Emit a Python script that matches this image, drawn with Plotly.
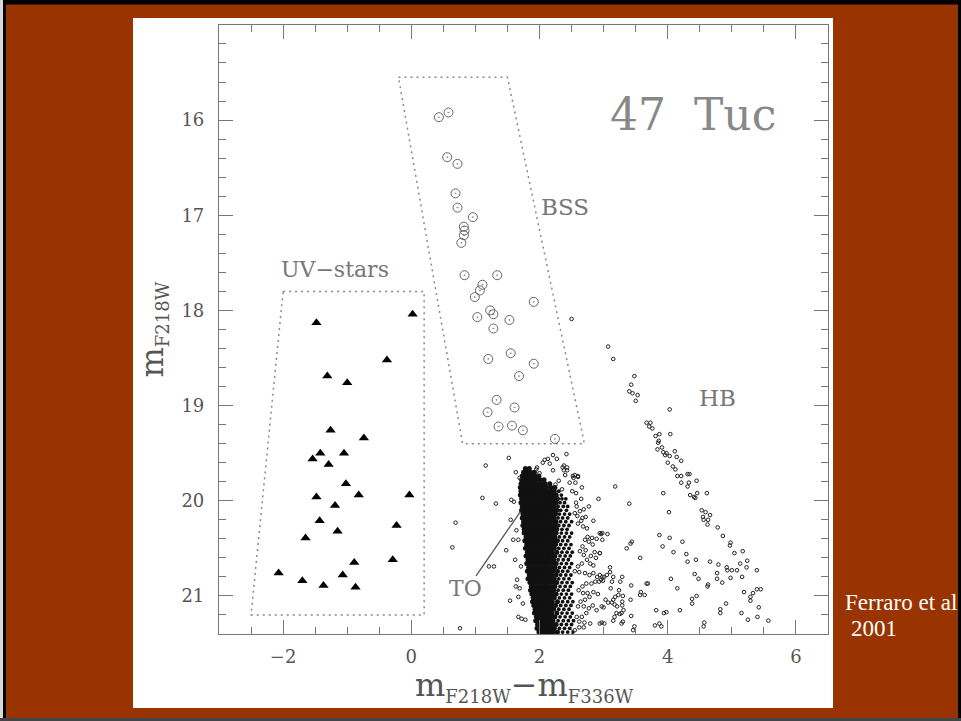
import plotly.graph_objects as go

# ---------------- data ----------------
# UV-stars (filled triangles)
uv_pts = [(-1.48, 18.13), (0.02, 18.04), (-0.38, 18.52), (-1.31, 18.69), (-1.00, 18.76),
          (-1.26, 19.26), (-0.74, 19.34), (-1.42, 19.50), (-1.05, 19.50), (-1.54, 19.56),
          (-1.29, 19.62), (-1.02, 19.82), (-1.48, 19.96), (-0.82, 19.94), (-0.03, 19.94),
          (-1.19, 20.05), (-1.43, 20.21), (-0.23, 20.26), (-1.15, 20.32), (-1.65, 20.39),
          (-0.29, 20.62), (-0.89, 20.65), (-2.07, 20.76), (-1.07, 20.78), (-1.70, 20.84),
          (-1.37, 20.89), (-0.87, 20.91)]

# Blue stragglers (circled dots)
bss_pts = [(0.43, 15.97), (0.58, 15.92), (0.56, 16.39), (0.72, 16.46), (0.69, 16.77),
           (0.72, 16.92), (0.96, 17.02), (0.82, 17.12), (0.83, 17.16), (0.82, 17.21),
           (0.78, 17.29), (0.83, 17.63), (1.34, 17.63), (1.11, 17.73), (1.07, 17.79),
           (0.99, 17.86), (1.91, 17.91), (1.23, 18.00), (1.28, 18.04), (1.03, 18.07),
           (1.53, 18.10), (1.28, 18.19), (1.55, 18.45), (1.20, 18.51), (1.91, 18.56),
           (1.68, 18.69), (1.33, 18.94), (1.61, 19.02), (1.19, 19.07), (1.36, 19.22),
           (1.57, 19.21), (1.74, 19.26), (2.24, 19.35)]

# Horizontal branch and red sparse field stars
hb_pts = [(3.07, 18.38), (3.15, 18.51), (3.48, 18.69), (3.43, 18.78), (3.40, 18.85), (3.45, 18.87),
          (3.53, 18.89), (3.50, 18.95), (4.03, 19.04), (3.67, 19.18), (3.73, 19.18), (3.71, 19.22),
          (3.76, 19.24), (3.87, 19.30), (4.04, 19.30), (3.81, 19.32), (3.86, 19.37), (3.85, 19.39),
          (3.91, 19.44), (3.84, 19.46), (3.93, 19.49), (3.98, 19.50), (4.03, 19.53), (4.11, 19.48),
          (3.96, 19.52), (4.00, 19.60), (4.14, 19.54), (4.08, 19.64), (4.12, 19.67), (4.21, 19.58),
          (4.15, 19.74), (4.21, 19.74), (4.31, 19.72), (4.34, 19.72), (4.21, 19.81), (4.33, 19.81),
          (4.45, 19.79), (4.31, 19.85), (3.93, 19.92), (4.35, 19.94), (4.46, 19.92), (4.41, 19.96),
          (4.61, 19.92), (4.43, 19.97), (4.53, 20.10), (4.59, 20.12), (4.66, 20.15), (4.55, 20.17),
          (4.56, 20.20), (4.63, 20.20), (4.62, 20.25), (4.78, 20.28), (4.86, 20.37), (4.02, 20.12),
          (3.40, 20.03), (3.18, 19.85), (4.98, 20.44), (4.97, 20.47), (5.04, 20.55), (5.17, 20.53),
          (5.24, 20.63), (5.13, 20.66), (5.23, 20.70), (5.39, 20.73), (5.08, 20.73), (5.00, 20.73),
          (4.92, 20.70), (4.93, 20.73), (4.98, 20.81), (5.16, 20.80), (4.79, 20.67), (4.77, 20.76),
          (4.77, 20.82), (4.85, 20.86), (4.66, 20.64), (4.44, 20.62), (4.31, 20.64), (4.29, 20.56),
          (4.42, 20.77), (4.48, 20.82), (4.63, 20.88), (4.62, 20.90), (4.23, 20.43), (4.09, 20.54),
          (4.03, 20.39), (3.92, 20.48), (3.87, 20.36), (3.42, 20.45), (3.44, 20.43), (3.36, 20.50),
          (3.57, 20.60), (4.05, 20.82), (4.15, 20.92), (4.45, 21.00), (4.38, 21.03), (4.38, 21.08),
          (4.91, 21.08), (5.19, 20.96), (5.33, 20.97), (5.39, 20.93), (5.45, 20.93), (5.29, 21.01),
          (5.29, 21.05), (5.42, 21.12), (5.15, 21.18), (5.40, 21.22), (5.25, 21.25), (5.57, 21.26),
          (4.82, 21.14), (4.82, 21.18), (4.19, 21.15), (3.98, 21.17), (3.94, 21.18), (3.82, 21.15),
          (4.57, 21.28), (4.56, 21.32), (3.87, 21.29), (3.80, 21.31), (3.90, 21.32), (3.48, 21.32),
          (3.46, 21.36), (3.67, 20.87), (3.69, 20.87), (3.64, 20.99), (3.58, 20.96), (3.43, 20.89),
          (3.42, 21.04), (3.43, 21.21), (3.57, 20.99)]

# sparse stars around the main-sequence cloud
halo_pts = [(2.50, 18.09), (1.52, 19.55), (1.16, 19.63), (1.11, 19.97), (1.32, 20.03), (0.69, 20.23),
            (0.64, 20.49), (1.21, 20.69), (1.29, 20.69), (1.54, 21.05), (0.76, 21.34), (1.60, 20.01),
            (1.56, 19.99), (1.55, 20.20), (1.48, 20.52), (1.65, 20.83), (1.69, 20.92), (1.67, 21.22),
            (1.72, 21.24), (1.78, 21.25), (1.64, 20.31), (1.67, 20.41), (1.62, 20.62), (1.71, 20.69),
            (1.63, 20.90), (1.67, 21.01), (1.74, 21.08), (1.59, 20.41), (1.63, 19.70), (1.69, 19.76),
            (1.95, 19.67), (2.08, 19.57), (2.13, 19.56), (2.21, 19.52), (2.00, 19.71),
            (1.96, 19.65), (2.05, 19.60), (2.16, 19.61), (2.21, 19.68), (2.27, 19.56), (2.36, 19.65),
            (2.43, 19.68), (2.40, 19.73), (2.52, 19.74), (2.60, 19.75), (2.42, 19.51),
            (2.38, 19.63), (2.43, 19.65), (2.38, 19.68), (2.55, 19.73), (2.53, 19.76), (2.60, 19.74),
            (2.47, 19.81), (2.56, 19.81), (2.66, 19.86), (2.57, 19.92), (2.51, 19.90), (2.65, 19.98),
            (2.57, 20.02), (2.58, 20.06), (2.92, 19.98), (2.30, 19.79), (2.25, 19.83), (2.35, 19.88),
            (2.77, 20.06), (2.69, 20.09), (2.63, 20.11), (2.55, 20.13), (2.59, 20.16), (2.67, 20.18),
            (2.84, 20.21), (2.72, 20.17), (2.65, 20.21), (2.60, 20.24), (2.68, 20.27), (2.74, 20.29),
            (2.96, 20.35), (2.89, 20.40), (2.82, 20.39), (2.75, 20.38), (2.71, 20.41), (2.77, 20.43),
            (2.83, 20.46), (2.86, 20.54), (2.80, 20.58), (2.88, 20.60), (2.94, 20.55), (2.72, 20.52),
            (2.67, 20.48), (2.63, 20.53), (2.69, 20.57), (2.74, 20.62), (2.79, 20.66), (2.84, 20.68),
            (2.66, 20.66), (2.60, 20.69), (2.55, 20.74), (2.62, 20.75), (2.71, 20.76), (2.78, 20.78),
            (2.84, 20.76), (2.90, 20.80), (2.94, 20.78), (2.87, 20.85), (2.93, 20.85), (2.81, 20.87),
            (2.73, 20.87), (2.67, 20.90), (2.61, 20.94), (2.68, 20.97), (2.75, 20.97), (2.84, 20.96),
            (2.91, 20.98), (2.78, 21.01), (2.71, 21.04), (2.64, 21.06), (2.60, 21.11), (2.69, 21.11),
            (2.77, 21.13), (2.83, 21.10), (2.89, 21.15), (2.73, 21.18), (2.66, 21.22), (2.58, 21.22),
            (2.62, 21.27), (2.70, 21.28), (2.79, 21.29), (2.69, 21.33), (2.62, 21.33), (2.55, 21.36),
            (2.94, 21.29),
            (2.94, 20.34), (2.98, 20.34), (3.06, 20.35), (2.98, 20.41), (2.94, 20.55), (3.10, 20.70),
            (3.10, 20.75), (3.01, 20.80), (3.05, 20.78), (2.98, 20.80), (2.96, 20.83), (2.99, 20.84),
            (3.15, 20.80), (3.13, 20.85), (3.11, 20.92), (3.29, 20.80), (3.26, 20.85), (3.24, 20.94),
            (3.18, 21.01), (3.15, 21.04), (3.23, 20.99), (3.30, 21.00), (3.29, 21.06), (3.29, 21.10),
            (3.17, 21.09), (3.13, 21.07), (3.03, 21.04), (3.00, 21.12), (3.07, 21.07), (2.97, 21.11),
            (3.21, 21.11), (3.25, 21.19), (3.20, 21.18), (3.17, 21.22), (3.28, 21.18), (3.31, 21.15),
            (3.15, 21.26), (3.30, 21.27), (3.28, 21.29), (3.01, 21.29), (2.97, 21.28)]

# dense main-sequence / turn-off cloud, read row by row (magnitude, colours)
core_mag = [19.66, 19.70, 19.74, 19.78, 19.82, 19.86, 19.90, 19.94, 19.98, 20.02, 20.06, 20.10,
            20.14, 20.18, 20.22, 20.26, 20.30, 20.34, 20.38, 20.42, 20.46, 20.50, 20.54, 20.58,
            20.62, 20.66, 20.70, 20.74, 20.78, 20.82, 20.86, 20.90, 20.94, 20.98, 21.02, 21.06,
            21.10, 21.14, 21.18, 21.22, 21.26, 21.30, 21.34, 21.38]
core_col = [
    [1.78, 1.84],
    [1.75, 1.80, 1.86, 1.92],
    [1.73, 1.78, 1.83, 1.88, 1.93, 1.99],
    [1.72, 1.76, 1.81, 1.86, 1.90, 1.95, 2.01, 2.07],
    [1.71, 1.75, 1.80, 1.84, 1.89, 1.93, 1.98, 2.03, 2.09, 2.16],
    [1.70, 1.74, 1.79, 1.83, 1.88, 1.92, 1.97, 2.01, 2.06, 2.11, 2.18, 2.24],
    [1.71, 1.76, 1.80, 1.85, 1.89, 1.94, 1.98, 2.03, 2.07, 2.12, 2.17, 2.23, 2.30],
    [1.70, 1.74, 1.79, 1.83, 1.88, 1.92, 1.97, 2.01, 2.06, 2.10, 2.15, 2.20, 2.26, 2.34],
    [1.72, 1.76, 1.81, 1.85, 1.90, 1.94, 1.99, 2.03, 2.08, 2.12, 2.17, 2.22, 2.28, 2.35, 2.41],
    [1.71, 1.75, 1.80, 1.84, 1.89, 1.93, 1.98, 2.02, 2.07, 2.11, 2.16, 2.21, 2.26, 2.32, 2.39],
    [1.73, 1.77, 1.82, 1.86, 1.91, 1.95, 2.00, 2.04, 2.09, 2.13, 2.18, 2.23, 2.29, 2.37, 2.44],
    [1.72, 1.76, 1.81, 1.85, 1.90, 1.94, 1.99, 2.03, 2.08, 2.12, 2.17, 2.22, 2.27, 2.33, 2.42],
    [1.74, 1.78, 1.83, 1.87, 1.92, 1.96, 2.01, 2.05, 2.10, 2.14, 2.19, 2.25, 2.31, 2.39, 2.47],
    [1.73, 1.77, 1.82, 1.86, 1.91, 1.95, 2.00, 2.04, 2.09, 2.13, 2.18, 2.23, 2.29, 2.36, 2.44],
    [1.75, 1.79, 1.84, 1.88, 1.93, 1.97, 2.02, 2.06, 2.11, 2.15, 2.20, 2.26, 2.33, 2.41, 2.50],
    [1.74, 1.78, 1.83, 1.87, 1.92, 1.96, 2.01, 2.05, 2.10, 2.14, 2.19, 2.24, 2.30, 2.38, 2.46],
    [1.76, 1.80, 1.85, 1.89, 1.94, 1.98, 2.03, 2.07, 2.12, 2.16, 2.21, 2.27, 2.35, 2.43],
    [1.76, 1.80, 1.85, 1.89, 1.93, 1.98, 2.02, 2.06, 2.11, 2.15, 2.20, 2.26, 2.34, 2.42, 2.50],
    [1.79, 1.83, 1.87, 1.92, 1.96, 2.00, 2.05, 2.09, 2.13, 2.18, 2.24, 2.31, 2.39, 2.47],
    [1.77, 1.81, 1.86, 1.90, 1.94, 1.99, 2.03, 2.07, 2.12, 2.16, 2.22, 2.28, 2.36, 2.44],
    [1.80, 1.84, 1.88, 1.93, 1.97, 2.01, 2.06, 2.10, 2.14, 2.19, 2.25, 2.33, 2.41, 2.49],
    [1.78, 1.82, 1.87, 1.91, 1.95, 2.00, 2.04, 2.08, 2.13, 2.17, 2.23, 2.30, 2.38, 2.46],
    [1.81, 1.85, 1.89, 1.94, 1.98, 2.02, 2.07, 2.11, 2.15, 2.20, 2.27, 2.35, 2.43, 2.51],
    [1.79, 1.83, 1.88, 1.92, 1.96, 2.01, 2.05, 2.09, 2.14, 2.18, 2.24, 2.32, 2.40, 2.48],
    [1.82, 1.86, 1.90, 1.95, 1.99, 2.03, 2.08, 2.12, 2.16, 2.22, 2.29, 2.37, 2.45],
    [1.80, 1.84, 1.89, 1.93, 1.97, 2.02, 2.06, 2.10, 2.15, 2.20, 2.26, 2.34, 2.42, 2.50],
    [1.83, 1.87, 1.91, 1.96, 2.00, 2.04, 2.09, 2.13, 2.18, 2.24, 2.31, 2.39, 2.47],
    [1.81, 1.86, 1.90, 1.94, 1.99, 2.03, 2.07, 2.12, 2.16, 2.21, 2.28, 2.36, 2.44],
    [1.84, 1.88, 1.92, 1.97, 2.01, 2.05, 2.10, 2.14, 2.19, 2.26, 2.33, 2.41, 2.49],
    [1.82, 1.87, 1.91, 1.95, 2.00, 2.04, 2.08, 2.13, 2.17, 2.23, 2.30, 2.38, 2.46],
    [1.85, 1.89, 1.94, 1.98, 2.02, 2.07, 2.11, 2.15, 2.21, 2.27, 2.35, 2.43, 2.51],
    [1.87, 1.91, 1.96, 2.00, 2.05, 2.09, 2.13, 2.18, 2.24, 2.32, 2.40, 2.48],
    [1.86, 1.90, 1.95, 1.99, 2.03, 2.08, 2.12, 2.17, 2.22, 2.29, 2.37, 2.45],
    [1.88, 1.93, 1.97, 2.02, 2.06, 2.10, 2.15, 2.20, 2.26, 2.34, 2.42, 2.50],
    [1.90, 1.94, 1.99, 2.03, 2.08, 2.12, 2.17, 2.23, 2.31, 2.39, 2.47],
    [1.89, 1.93, 1.98, 2.02, 2.06, 2.11, 2.15, 2.20, 2.28, 2.36, 2.44, 2.52],
    [1.91, 1.96, 2.00, 2.05, 2.09, 2.14, 2.19, 2.25, 2.33, 2.41, 2.49],
    [1.93, 1.97, 2.02, 2.06, 2.11, 2.16, 2.22, 2.30, 2.38, 2.46],
    [1.92, 1.96, 2.01, 2.05, 2.10, 2.14, 2.19, 2.27, 2.35, 2.43, 2.51],
    [1.95, 1.99, 2.04, 2.08, 2.13, 2.18, 2.24, 2.32, 2.40, 2.48],
    [1.94, 1.98, 2.03, 2.07, 2.12, 2.16, 2.21, 2.29, 2.37, 2.45, 2.53],
    [1.97, 2.01, 2.06, 2.10, 2.15, 2.20, 2.26, 2.34, 2.42, 2.50],
    [1.96, 2.00, 2.05, 2.09, 2.14, 2.18, 2.23, 2.31, 2.39, 2.47],
    [1.99, 2.03, 2.08, 2.12, 2.17, 2.22, 2.28, 2.36, 2.44, 2.52],
]

# selection boxes and turn-off pointer
uv_box_x = [-2.0, 0.2, 0.2, -2.5, -2.0]
uv_box_y = [17.8, 17.8, 21.2, 21.2, 17.8]
bss_box_x = [-0.2, 1.5, 2.7, 0.8, -0.2]
bss_box_y = [15.55, 15.55, 19.4, 19.4, 15.55]
to_x = [1.01, 1.87]
to_y = [20.79, 19.95]

# ---------------- figure ----------------
GRAY = "#777"
SERIF = "DejaVu Serif"
INK = "#111"
DENSE_EDGE = 2.28   # beyond this colour the cloud thins out into separate dots

field_x = [p[0] for p in hb_pts + halo_pts]
field_y = [p[1] for p in hb_pts + halo_pts]
core_x, core_y = [], []
for m, cols in zip(core_mag, core_col):
    core_x.extend(cols)
    core_y.extend([m] * len(cols))
core_size = [5.0 if c <= DENSE_EDGE else 3.8 for c in core_x]

fig = go.Figure()
box_line = dict(color="#888", width=1.5, dash="2px,4px")
fig.add_trace(go.Scatter(x=uv_box_x, y=uv_box_y, mode="lines", line=box_line, hoverinfo="skip"))
fig.add_trace(go.Scatter(x=bss_box_x, y=bss_box_y, mode="lines", line=box_line, hoverinfo="skip"))
fig.add_trace(go.Scatter(x=to_x, y=to_y, mode="lines", line=dict(color="#555", width=1.3), hoverinfo="skip"))
fig.add_trace(go.Scatter(x=core_x, y=core_y, mode="markers",
                         marker=dict(symbol="circle", size=core_size, color=INK, opacity=1,
                                     line=dict(width=0, color=INK))))
fig.add_trace(go.Scatter(x=field_x, y=field_y, mode="markers",
                         marker=dict(symbol="circle-open", size=3.6, color="#222", line=dict(width=1))))
fig.add_trace(go.Scatter(x=[p[0] for p in bss_pts], y=[p[1] for p in bss_pts], mode="markers",
                         marker=dict(symbol="circle-open-dot", size=9, color="#666", line=dict(width=1))))
fig.add_trace(go.Scatter(x=[p[0] for p in uv_pts], y=[p[1] for p in uv_pts], mode="markers",
                         marker=dict(symbol="triangle-up", size=9, color="black")))

tickfont = dict(family=SERIF, size=18, color="#555")
common = dict(ticks="inside", ticklen=14, tickwidth=1, tickcolor=GRAY, showline=True,
              linecolor=GRAY, linewidth=1.2, mirror="ticks", showgrid=False, zeroline=False,
              tickfont=tickfont)
fig.update_layout(
    width=961, height=721, autosize=False,
    margin=dict(l=219, r=133, t=25, b=87, pad=0),
    paper_bgcolor="#993300", plot_bgcolor="white", showlegend=False,
    xaxis=dict(range=[-3, 6.5], tick0=0, dtick=2, ticklabelstandoff=6,
               minor=dict(tick0=0, dtick=0.5, ticks="inside", ticklen=7, tickcolor=GRAY, tickwidth=1, showgrid=False),
               **common),
    yaxis=dict(range=[21.4, 15.001], tick0=0, dtick=1, ticklabelstandoff=10,
               minor=dict(tick0=0, dtick=0.2, ticks="inside", ticklen=7, tickcolor=GRAY, tickwidth=1, showgrid=False),
               **common),
)


def P(px):
    return (px - 219) / 609


def Q(py):
    return (634 - py) / 609


shapes = [
    dict(type="rect", xref="paper", yref="paper", x0=P(133), x1=P(833), y0=Q(708), y1=Q(18),
         fillcolor="white", line=dict(width=0), layer="below"),
    dict(type="rect", xref="paper", yref="paper", x0=P(0), x1=P(961), y0=Q(4.5), y1=Q(0),
         fillcolor="black", line=dict(width=0)),
    dict(type="rect", xref="paper", yref="paper", x0=P(0), x1=P(3), y0=Q(721), y1=Q(0),
         fillcolor="#d8d8d8", line=dict(width=0)),
    dict(type="rect", xref="paper", yref="paper", x0=P(3), x1=P(6), y0=Q(721), y1=Q(0),
         fillcolor="black", line=dict(width=0)),
    dict(type="rect", xref="paper", yref="paper", x0=P(958), x1=P(961), y0=Q(721), y1=Q(0),
         fillcolor="black", line=dict(width=0)),
    dict(type="rect", xref="paper", yref="paper", x0=P(0), x1=P(961), y0=Q(721), y1=Q(718),
         fillcolor="#444", line=dict(width=0)),
]
fig.update_layout(shapes=shapes)

lab = dict(family=SERIF, color="#777")
sub = '<span style="font-size:18px">{}</span>'
annotations = [
    dict(text="47\u00a0\u00a0Tuc", x=4.395, y=15.94, xref="x", yref="y", showarrow=False,
         font=dict(size=44, family=SERIF, color="#888")),
    dict(text="BSS", x=2.40, y=16.91, xref="x", yref="y", showarrow=False, font=dict(size=23, **lab)),
    dict(text="UV\u2212stars", x=-1.19, y=17.57, xref="x", yref="y", showarrow=False, font=dict(size=22, **lab)),
    dict(text="HB", x=4.78, y=18.92, xref="x", yref="y", showarrow=False, font=dict(size=23, **lab)),
    dict(text="TO", x=0.85, y=20.92, xref="x", yref="y", showarrow=False, font=dict(size=22, **lab)),
    dict(text="m<sub>" + sub.format("F218W") + "</sub>\u2212m<sub>" + sub.format("F336W") + "</sub>",
         x=P(524), y=Q(709), xref="paper", yref="paper", showarrow=False,
         font=dict(family=SERIF, size=32, color="#555")),
    dict(text="m<sub>" + sub.format("F218W") + "</sub>", textangle=-90,
         x=P(131), y=Q(330), xref="paper", yref="paper", showarrow=False,
         font=dict(family=SERIF, size=32, color="#555")),
    dict(text="Ferraro et al", x=P(843), y=Q(588), xref="paper", yref="paper", xanchor="left",
         yanchor="top", showarrow=False, font=dict(family="Liberation Serif", size=23, color="white")),
    dict(text="2001", x=P(849), y=Q(614), xref="paper", yref="paper", xanchor="left",
         yanchor="top", showarrow=False, font=dict(family="Liberation Serif", size=23, color="white")),
]
fig.update_layout(annotations=annotations)

fig.write_html("out.html")
